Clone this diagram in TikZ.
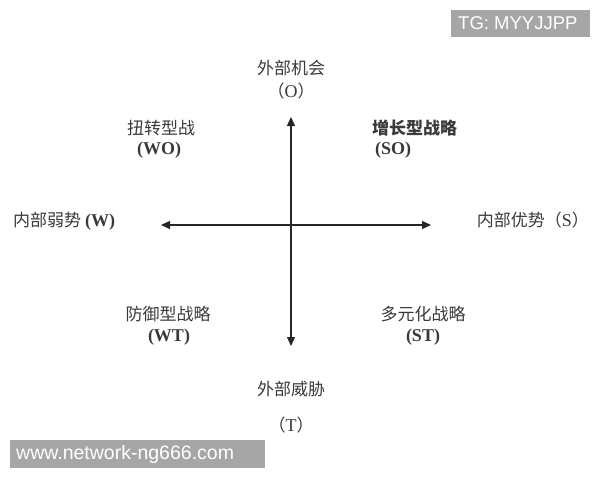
\documentclass[tikz,border=0pt]{standalone}
\usepackage{fontspec}
\setmainfont{Liberation Serif}
\newfontfamily\cjk{Noto Sans CJK SC}
\newfontfamily\wmfont{Liberation Sans}
\usetikzlibrary{arrows.meta}
\definecolor{txt}{HTML}{3A3A3A}
\definecolor{wmgray}{HTML}{A6A6A6}
\newcommand{\lat}[1]{{\rmfamily\fontsize{18}{20}\selectfont #1}}

\begin{document}
\begin{tikzpicture}[x=1pt, y=-1pt, align=center]
\tikzstyle{lab} = [text=txt, font=\fontsize{17}{20}\selectfont\cjk, inner sep=0pt]
\tikzstyle{ax} = [draw=black!85, line width=1.3pt, {Triangle[length=9pt, width=8pt]}-{Triangle[length=9pt, width=8pt]}]
\tikzstyle{wm} = [fill=wmgray, text=white, font=\wmfont, inner sep=0pt, anchor=west]

\useasboundingbox[fill=white] (0,0) rectangle (600,480);

% axes
\coordinate (N) at (291,117);
\coordinate (S) at (291,346);
\coordinate (W) at (161,225);
\coordinate (E) at (431,225);
\draw[ax] (S) -- (N);
\draw[ax] (W) -- (E);

% axis labels
\node[lab](O1) at (291,68) {外部机会};
\node[lab](O2) at (291,91) {（\lat{O}）};
\node[lab](T1) at (291,389) {外部威胁};
\node[lab](T2) at (291,425) {（\lat{T}）};
\node[lab, anchor=west](Wk) at (13,221) {内部弱势 \lat{\bfseries (W)}};
\node[lab, anchor=east](St) at (589,220) {内部优势（\lat{S}）};

% quadrants
\node[lab](WO1) at (161,128) {扭转型战};
\node[lab](WO2) at (159,150) {\lat{\bfseries (WO)}};
\node[lab, anchor=west](SO1) at (372,128) {\bfseries 增长型战略};
\node[lab, anchor=west](SO2) at (375,150) {\lat{\bfseries (SO)}};
\node[lab](WT1) at (168,314) {防御型战略};
\node[lab](WT2) at (169,337) {\lat{\bfseries (WT)}};
\node[lab](ST1) at (423,314) {多元化战略};
\node[lab](ST2) at (423,337) {\lat{\bfseries (ST)}};

% watermarks
\fill[wmgray] (451,10) rectangle (590,37);
\node[wm, font=\fontsize{18.5}{20}\selectfont\wmfont](TG) at (458,23.5) {TG: MYYJJPP};
\fill[wmgray] (10,440) rectangle (265,468);
\node[wm, font=\fontsize{19.5}{22}\selectfont\wmfont](WWW) at (16,454) {www.network-ng666.com};
\end{tikzpicture}
\end{document}
